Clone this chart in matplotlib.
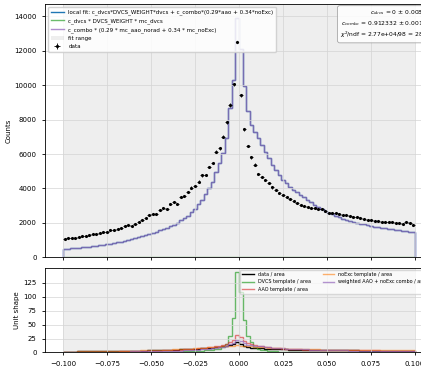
import numpy as np
import matplotlib
matplotlib.use("Agg")
import matplotlib.pyplot as plt
from matplotlib.patches import Patch

# histogram range for b_MM2_epgX
x_lo, x_hi, n_bins = -0.1, 0.1, 100

# measured counts per bin
data_counts = [
    1100, 1110, 1130, 1150, 1200, 1230, 1220, 1280, 1370, 1340,
    1420, 1460, 1480, 1600, 1580, 1660, 1720, 1800, 1900, 1850,
    1960, 2050, 2150, 2280, 2450, 2514, 2550, 2743, 2876, 2838,
    3124, 3219, 3086, 3505, 3562, 3790, 4057, 4133, 4400, 4762,
    4781, 5257, 5486, 6134, 6324, 6990, 7829, 8839, 10039, 12500,
    9403, 7440, 6470, 5800, 5380, 4840, 4680, 4480, 4300, 4060,
    3900, 3720, 3600, 3490, 3380, 3260, 3180, 3060, 2980, 2910,
    2860, 2850, 2800, 2790, 2700, 2600, 2580, 2560, 2520, 2490,
    2480, 2430, 2370, 2360, 2280, 2260, 2200, 2180, 2140, 2100,
    2080, 2060, 2040, 2050, 2000, 1990, 1970, 2040, 2020, 1910]

# local fit result (c_dvcs = 0, so this is the combo part)
fit_counts = [
    500, 515, 530, 550, 570, 590, 610, 630, 650, 680,
    700, 740, 780, 800, 850, 880, 920, 960, 1000, 1080,
    1150, 1190, 1240, 1300, 1350, 1420, 1500, 1580, 1640, 1700,
    1800, 1900, 2020, 2150, 2300, 2400, 2650, 2840, 3100, 3310,
    3700, 4050, 4360, 4930, 5500, 6040, 6930, 8650, 10300, 13900,
    12100, 9950, 8500, 7700, 7300, 6900, 6500, 6100, 5750, 5350,
    5050, 4800, 4500, 4300, 4100, 3930, 3780, 3630, 3490, 3330,
    3190, 3060, 2930, 2800, 2700, 2600, 2510, 2430, 2350, 2260,
    2200, 2140, 2080, 2020, 1960, 1920, 1880, 1840, 1790, 1750,
    1720, 1690, 1660, 1630, 1600, 1580, 1550, 1520, 1500, 1470]

# unit-area template shapes
dvcs_shape = [
    0.2, 0.2, 0.2, 0.2, 0.3, 0.3, 0.3, 0.3, 0.3, 0.3,
    0.4, 0.4, 0.4, 0.4, 0.5, 0.5, 0.5, 0.5, 0.6, 0.6,
    0.6, 0.7, 0.7, 0.8, 0.8, 0.9, 1.0, 1.0, 1.1, 1.2,
    1.3, 1.4, 1.5, 1.7, 1.9, 2.1, 2.4, 2.7, 3.0, 3.5,
    4.0, 4.5, 5.0, 5.5, 7.0, 10.0, 16.0, 30.0, 62.0, 144.0,
    108.0, 58.0, 30.0, 18.0, 10.0, 7.0, 5.0, 4.0, 3.3, 2.8,
    2.0, 1.6, 1.3, 1.1, 1.0, 0.9, 0.9, 0.8, 0.8, 0.7,
    0.7, 0.6, 0.6, 0.6, 0.5, 0.5, 0.5, 0.5, 0.4, 0.4,
    0.4, 0.4, 0.4, 0.3, 0.3, 0.3, 0.3, 0.3, 0.3, 0.3,
    0.3, 0.3, 0.2, 0.2, 0.2, 0.2, 0.2, 0.2, 0.2, 0.2]

aao_shape = [
    0.6, 0.7, 0.8, 0.8, 0.9, 1.0, 1.0, 1.1, 1.2, 1.2,
    1.3, 1.4, 1.5, 1.5, 1.6, 1.7, 1.8, 1.9, 2.0, 2.1,
    2.2, 2.3, 2.5, 2.6, 2.8, 3.0, 3.2, 3.4, 3.6, 3.9,
    4.1, 4.4, 4.7, 5.0, 5.4, 5.8, 6.3, 6.8, 7.4, 8.0,
    8.8, 9.6, 10.5, 11.5, 12.5, 14.0, 16.0, 18.0, 22.0, 31.0,
    28.0, 21.0, 17.0, 15.0, 13.5, 12.2, 11.0, 10.0, 9.2, 8.5,
    7.9, 7.4, 7.0, 6.6, 6.3, 6.0, 5.7, 5.5, 5.3, 5.1,
    4.9, 4.8, 4.6, 4.5, 4.4, 4.3, 4.2, 4.1, 4.0, 4.0,
    3.9, 3.9, 3.8, 3.8, 3.7, 3.7, 3.7, 3.6, 3.6, 3.6,
    3.5, 3.5, 3.5, 3.5, 3.4, 3.4, 3.4, 3.4, 3.3, 3.3]

noexc_shape = [
    1.5, 1.6, 1.6, 1.7, 1.8, 1.8, 1.9, 2.0, 2.0, 2.1,
    2.2, 2.3, 2.4, 2.5, 2.6, 2.7, 2.8, 2.9, 3.0, 3.1,
    3.3, 3.4, 3.6, 3.7, 3.9, 4.1, 4.3, 4.5, 4.7, 5.0,
    5.2, 5.5, 5.8, 6.1, 6.4, 6.8, 7.1, 7.5, 7.9, 8.3,
    8.7, 9.1, 9.6, 10.0, 10.5, 11.0, 11.5, 12.0, 12.4, 12.7,
    12.5, 12.1, 11.6, 11.1, 10.6, 10.1, 9.6, 9.2, 8.8, 8.4,
    8.0, 7.7, 7.4, 7.1, 6.8, 6.6, 6.4, 6.2, 6.0, 5.8,
    5.7, 5.5, 5.4, 5.3, 5.2, 5.1, 5.0, 4.9, 4.8, 4.7,
    4.7, 4.6, 4.5, 4.5, 4.4, 4.4, 4.3, 4.3, 4.2, 4.2,
    4.1, 4.1, 4.1, 4.0, 4.0, 4.0, 3.9, 3.9, 3.9, 3.8]

c_dvcs, c_dvcs_err = 0.0, 0.0089
c_combo, c_combo_err = 0.912332, 0.0019
chi2, ndf = 2.77e4, 98

edges = np.linspace(x_lo, x_hi, n_bins + 1)
centers = 0.5 * (edges[1:] + edges[:-1])
width = edges[1] - edges[0]

data = np.array(data_counts, dtype=float)
fit = np.array(fit_counts, dtype=float)
dvcs = np.array(dvcs_shape)
dvcs_part = c_dvcs * dvcs * data.sum() * width   # zero for this fit
combo_part = fit - dvcs_part

fig = plt.figure(figsize=(4.21, 3.70), dpi=100)
ax = fig.add_axes([0.1069, 0.3041, 0.9216, 0.6852])
ax2 = fig.add_axes([0.1069, 0.0473, 0.9216, 0.2297], sharex=ax)

fs = 5
h_fit = ax.stairs(fit, edges, color="tab:blue", lw=1.0,
                  label="local fit: c_dvcs*DVCS_WEIGHT*dvcs + c_combo*(0.29*aao + 0.34*noExc)")
h_dvcs = ax.stairs(dvcs_part, edges, color="tab:green", lw=1.0, alpha=0.7,
                   label="c_dvcs * DVCS_WEIGHT * mc_dvcs")
h_combo = ax.stairs(combo_part, edges, color="tab:purple", lw=1.0, alpha=0.75,
                    label="c_combo * (0.29 * mc_aao_norad + 0.34 * mc_noExc)")
h_span = ax.axvspan(x_lo, x_hi, color="gray", alpha=0.13, lw=0, label="fit range")
h_data = ax.errorbar(centers, data, yerr=np.sqrt(data), xerr=width / 2, fmt=".",
                     color="black", ms=2.5, elinewidth=0.6, capsize=0, label="data", zorder=5)

ax.legend(handles=[h_fit, h_dvcs, h_combo, h_span, h_data], loc="upper left",
          fontsize=4, framealpha=0.85, borderpad=0.5, labelspacing=0.55,
          handlelength=2.4, bbox_to_anchor=(0.0, 1.0))

txt = (f"$c_{{dvcs}}$ = {c_dvcs:g} ± {c_dvcs_err:.2g}\n"
       f"$c_{{combo}}$ = {c_combo:g} ± {c_combo_err:.2g}\n"
       f"$\\chi^2$/ndf = {chi2:.2e}/{ndf} = {chi2 / ndf:.0f}")
ax.text(0.985, 0.985, txt, transform=ax.transAxes, ha="right", va="top",
        fontsize=4.3, multialignment="right", linespacing=1.35,
        bbox=dict(boxstyle="round,pad=0.4", fc="white", ec="#999999", alpha=0.85, lw=0.6))

ax.set_xlim(-0.1102, 0.1102)
ax.set_ylim(0, 14700)
ax.set_ylabel("Counts", fontsize=fs)
ax.yaxis.set_label_coords(-0.085, 0.5)
ax.grid(True, color="#d4d4d4", lw=0.5)
ax.tick_params(labelsize=fs, length=2.5, width=0.6, labelbottom=False)

# lower panel: normalised shapes
area_data = data.sum() * width
area_fit = fit.sum() * width
ax2.axvspan(x_lo, x_hi, color="gray", alpha=0.13, lw=0)
l1 = ax2.stairs(data / area_data, edges, color="black", lw=1.0, label="data / area")
l2 = ax2.stairs(dvcs, edges, color="tab:green", lw=1.0, alpha=0.7, label="DVCS template / area")
l3 = ax2.stairs(np.array(aao_shape), edges, color="tab:red", lw=1.0, alpha=0.6,
                label="AAO template / area")
l4 = ax2.stairs(np.array(noexc_shape), edges, color="tab:orange", lw=1.0, alpha=0.6,
                label="noExc template / area")
l5 = ax2.stairs(fit / area_fit, edges, color="tab:purple", lw=1.0, alpha=0.7,
                label="weighted AAO + noExc combo / area")
ax2.legend(handles=[l1, l2, l3, l4, l5], ncol=2, loc="upper right", fontsize=3.5,
           framealpha=0.7, labelspacing=0.5, columnspacing=2.5, handlelength=2.4)

ax2.set_ylim(0, 152)
ax2.set_yticks([0, 25, 50, 75, 100, 125])
ax2.set_xticks([-0.1, -0.075, -0.05, -0.025, 0.0, 0.025, 0.05, 0.075, 0.1])
ax2.set_ylabel("Unit shape", fontsize=fs)
ax2.yaxis.set_label_coords(-0.064, 0.5)
ax2.set_xlabel("b_MM2_epgX", fontsize=fs, labelpad=1.5)
ax2.grid(True, color="#d4d4d4", lw=0.5)
ax2.tick_params(labelsize=fs, length=2.5, width=0.6)

for a in (ax, ax2):
    for s in a.spines.values():
        s.set_linewidth(0.6)

fig.savefig("out.png", dpi=100)
